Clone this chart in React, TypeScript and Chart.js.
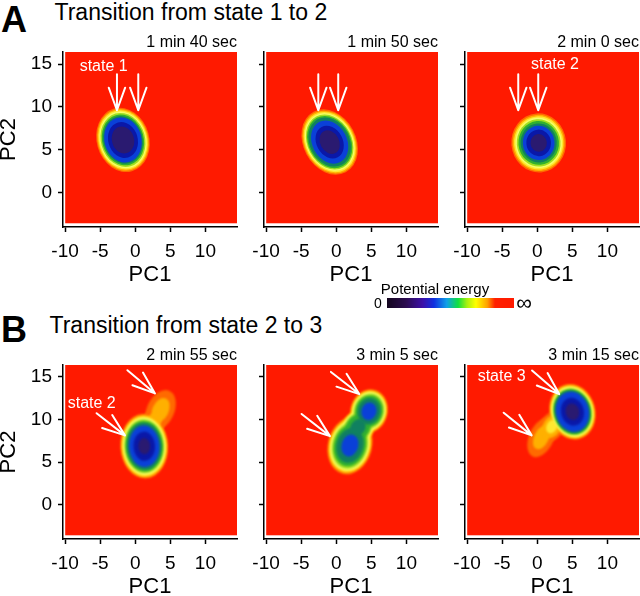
import React, { useEffect, useRef } from 'react';
import { Chart, registerables } from 'chart.js';
Chart.register(...registerables);

const FONT = '"Liberation Sans", Arial, Helvetica, sans-serif';

// axes
const X_TICKS = [-10, -5, 0, 5, 10];
const Y_TICKS = [0, 5, 10, 15];
const AXIS_X_RANGE = [-10.3, 14.5];
const AXIS_Y_RANGE = [-4.0, 16.4];
const FIELD_X_RANGE = [-10, 14.5];
const FIELD_Y_RANGE = [-3.6, 16.4];

// texts
const ROW_LETTERS = ['A', 'B'];
const ROW_TITLES = ['Transition from state 1 to 2', 'Transition from state 2 to 3'];
const PANEL_TIMES = ['1 min 40 sec', '1 min 50 sec', '2 min 0 sec', '2 min 55 sec', '3 min 5 sec', '3 min 15 sec'];

// potential-energy levels (outer -> inner)
const FIELD_COLOR = '#ff1a00';
const LEVEL_COLORS = ['#ff6a00', '#ffb000', '#ffe830', '#f4ff6a', '#a0e020', '#30b030', '#108060', '#0a40d8', '#0a18a8', '#2a1a70'];

// wells (contour ellipses) per panel, in PC units
const BLOB_PANEL = [0, 1, 2, 3, 3, 3, 4, 4, 4, 5, 5, 5];
const BLOB_X = [-1.75, -0.94, 0.2, 1.28, 3.6, 2.6, 1.95, 4.66, 3.09, 5.01, 0.6, 2.1];
const BLOB_Y = [6.15, 5.9, 5.8, 6.88, 11.1, 9.7, 6.97, 10.98, 9.09, 10.92, 7.9, 9.2];
const BLOB_RX = [3.75, 3.75, 3.9, 3.4, 1.95, 1.6, 3.15, 2.66, 2.3, 3.25, 1.75, 1.7];
const BLOB_RY = [3.8, 4.0, 3.45, 3.8, 2.5, 1.8, 3.45, 2.6, 2.3, 3.3, 2.45, 1.9];
const BLOB_ROT = [-16, -28, -5, -3, 25, 30, 15, 15, 35, -15, 25, 30];
const BLOB_LEVELS = [
  [1, 0.96, 0.92, 0.88, 0.84, 0.79, 0.74, 0.7, 0.56, 0.42],
  [1, 0.96, 0.92, 0.88, 0.84, 0.8, 0.75, 0.66, 0.5, 0.36],
  [1, 0.95, 0.9, 0.85, 0.8, 0.74, 0.66, 0.58, 0.45, 0.3],
  [1, 0.96, 0.92, 0.87, 0.83, 0.78, 0.72, 0.64, 0.45, 0.25],
  [1, 0.6],
  [1, 0.65],
  [1, 0.95, 0.9, 0.85, 0.8, 0.72, 0.6, 0.38],
  [1, 0.95, 0.9, 0.85, 0.8, 0.72, 0.6, 0.4],
  [1, 0.95, 0.9, 0.85, 0.8, 0.72, 0.45],
  [1, 0.96, 0.92, 0.88, 0.84, 0.8, 0.76, 0.72, 0.5, 0.3],
  [1, 0.6],
  [1, 0.75, 0.45],
];

// arrows: tip position and pointing direction (degrees, screen)
const ARROW_PANEL = [0, 0, 1, 1, 2, 2, 3, 3, 4, 4, 5, 5];
const ARROW_X = [-2.61, 0.43, -2.56, 0.28, -2.71, 0.14, 2.81, -1.47, 3.28, -0.9, 3.13, -0.8];
const ARROW_Y = [9.61, 9.61, 9.61, 9.61, 9.61, 9.61, 13.07, 8.15, 12.99, 8.06, 12.99, 8.15];
const ARROW_DIR = [90, 90, 90, 90, 90, 90, 40, 38, 38, 38, 41, 39];

// state labels
const LABEL_PANEL = [0, 2, 3, 5];
const LABEL_TEXT = ['state 1', 'state 2', 'state 2', 'state 3'];
const LABEL_X = [-4.5, 2.52, -6.21, -5.07];
const LABEL_Y = [14.69, 14.89, 11.89, 15.03];

// colour bar
const CBAR_STOPS = [0, 0.15, 0.28, 0.37, 0.47, 0.56, 0.63, 0.7, 0.79, 0.85, 1];
const CBAR_COLORS = ['#14061e', '#2c0c50', '#3c10a8', '#1030e0', '#10a0e8', '#10e040', '#a8f010', '#ffff00', '#ffa000', '#ff2000', '#ff1a00'];

const ROW_CANVAS_TOP = [27, 340];
const ROW_CANVAS_H = [261, 260];

function makeFieldPlugin(panel: number, soft: number) {
  return {
    id: 'field' + panel,
    beforeDatasetsDraw(chart: any) {
      const { ctx, scales } = chart;
      const xs = scales.x, ys = scales.y;
      const px = (v: number) => xs.getPixelForValue(v);
      const py = (v: number) => ys.getPixelForValue(v);
      ctx.save();
      const fx0 = px(FIELD_X_RANGE[0]), fx1 = px(FIELD_X_RANGE[1]);
      const fy0 = py(FIELD_Y_RANGE[0]), fy1 = py(FIELD_Y_RANGE[1]);
      ctx.beginPath();
      ctx.rect(fx0, fy1, fx1 - fx0, fy0 - fy1);
      ctx.clip();
      ctx.fillStyle = FIELD_COLOR;
      ctx.fillRect(fx0, fy1, fx1 - fx0, fy0 - fy1);
      const idx: number[] = [];
      BLOB_PANEL.forEach((p, i) => { if (p === panel) idx.push(i); });
      ctx.filter = soft > 0 ? `blur(${soft}px)` : 'none';
      for (let L = 0; L < LEVEL_COLORS.length; L++) {
        ctx.fillStyle = LEVEL_COLORS[L];
        for (const i of idx) {
          const f = BLOB_LEVELS[i][L];
          if (f === undefined) continue;
          const cx = px(BLOB_X[i]), cy = py(BLOB_Y[i]);
          const rx = Math.abs(px(BLOB_X[i] + BLOB_RX[i]) - cx) * f;
          const ry = Math.abs(py(BLOB_Y[i] + BLOB_RY[i]) - cy) * f;
          ctx.beginPath();
          ctx.ellipse(cx, cy, rx, ry, (BLOB_ROT[i] * Math.PI) / 180, 0, 2 * Math.PI);
          ctx.fill();
        }
      }
      ctx.filter = 'none';
      // arrows
      ctx.strokeStyle = '#ffffff';
      ctx.lineWidth = 2;
      ctx.lineCap = 'round';
      ARROW_PANEL.forEach((p, i) => {
        if (p !== panel) return;
        const tx = px(ARROW_X[i]), ty = py(ARROW_Y[i]);
        const d = (ARROW_DIR[i] * Math.PI) / 180;
        ctx.beginPath();
        ctx.moveTo(tx - 36 * Math.cos(d), ty - 36 * Math.sin(d));
        ctx.lineTo(tx, ty);
        for (const s of [-1, 1]) {
          const h = d + Math.PI + s * (20 * Math.PI) / 180;
          ctx.moveTo(tx, ty);
          ctx.lineTo(tx + 24 * Math.cos(h), ty + 24 * Math.sin(h));
        }
        ctx.stroke();
      });
      // labels
      ctx.fillStyle = '#ffffff';
      ctx.font = `16px ${FONT}`;
      ctx.textAlign = 'center';
      ctx.textBaseline = 'middle';
      LABEL_PANEL.forEach((p, i) => {
        if (p !== panel) return;
        ctx.fillText(LABEL_TEXT[i], px(LABEL_X[i]), py(LABEL_Y[i]));
      });
      ctx.restore();
    },
  };
}

function Panel({ index }: { index: number }) {
  const ref = useRef<HTMLCanvasElement>(null);
  const row = Math.floor(index / 3);
  const col = index % 3;
  const H = ROW_CANVAS_H[row];
  useEffect(() => {
    const chart = new Chart(ref.current as HTMLCanvasElement, {
      type: 'scatter',
      data: { datasets: [{ data: [], pointRadius: 0 }] },
      options: {
        animation: false,
        responsive: false,
        events: [],
        layout: { padding: { left: 0, right: 3, top: 0, bottom: 0 } },
        plugins: {
          legend: { display: false },
          tooltip: { enabled: false },
          title: {
            display: true,
            text: PANEL_TIMES[index],
            align: 'end',
            color: '#000',
            font: { family: FONT, size: 16, weight: 'normal', lineHeight: 1.125 },
            padding: { top: 7, bottom: 0 },
          },
        },
        scales: {
          x: {
            type: 'linear',
            min: AXIS_X_RANGE[0],
            max: AXIS_X_RANGE[1],
            afterBuildTicks: (s: any) => { s.ticks = X_TICKS.map((v) => ({ value: v })); },
            afterFit: (s: any) => { s.height = 61; },
            ticks: { color: '#000', font: { family: FONT, size: 19 }, padding: 8, maxRotation: 0, autoSkip: false, callback: (v: any) => String(v) },
            grid: { display: true, drawOnChartArea: false, drawTicks: true, tickLength: 5, tickWidth: 1.5, tickColor: '#000' },
            border: { display: true, color: '#000', width: 1.5 },
            title: { display: true, text: 'PC1', color: '#000', font: { family: FONT, size: 22 }, padding: 0 },
          },
          y: {
            type: 'linear',
            min: AXIS_Y_RANGE[0],
            max: AXIS_Y_RANGE[1],
            afterBuildTicks: (s: any) => { s.ticks = Y_TICKS.map((v) => ({ value: v })); },
            afterFit: (s: any) => { s.width = 63; },
            ticks: { color: '#000', font: { family: FONT, size: 19 }, padding: 6, autoSkip: false, callback: (v: any) => (col === 0 ? String(v) : '') },
            grid: { display: true, drawOnChartArea: false, drawTicks: true, tickLength: 5, tickWidth: 1.5, tickColor: '#000' },
            border: { display: true, color: '#000', width: 1.5 },
            title: { display: col === 0, text: 'PC2', color: '#000', font: { family: FONT, size: 22, lineHeight: 0.85 }, padding: 0 },
          },
        },
      } as any,
      plugins: [makeFieldPlugin(index, row === 0 ? 0.5 : 1.3)],
    });
    return () => chart.destroy();
  }, []);
  return (
    <canvas
      ref={ref}
      width={240}
      height={H}
      style={{ position: 'absolute', left: col * 201, top: ROW_CANVAS_TOP[row], width: 240, height: H }}
    />
  );
}

export default function App() {
  const gradient = `linear-gradient(to right, ${CBAR_COLORS.map((c, i) => `${c} ${(CBAR_STOPS[i] * 100).toFixed(1)}%`).join(', ')})`;
  const abs = (o: any) => ({ position: 'absolute' as const, whiteSpace: 'nowrap' as const, ...o });
  return (
    <div style={{ position: 'absolute', left: 0, top: 0, width: 640, height: 596, overflow: 'hidden', background: '#fff', fontFamily: FONT, color: '#000' }}>
      <div style={abs({ left: 1, top: 1.5, fontSize: 36, lineHeight: '36px', fontWeight: 'bold' })}>{ROW_LETTERS[0]}</div>
      <div style={abs({ left: 54.5, top: 0.8, fontSize: 23, lineHeight: '23px' })}>{ROW_TITLES[0]}</div>
      <div style={abs({ left: 1, top: 311.5, fontSize: 36, lineHeight: '36px', fontWeight: 'bold' })}>{ROW_LETTERS[1]}</div>
      <div style={abs({ left: 49.5, top: 313.9, fontSize: 23, lineHeight: '23px' })}>{ROW_TITLES[1]}</div>
      {[0, 1, 2, 3, 4, 5].map((i) => (
        <Panel key={i} index={i} />
      ))}
      <div style={abs({ left: 335, width: 200, textAlign: 'center', top: 280.6, fontSize: 15, lineHeight: '15px' })}>Potential energy</div>
      <div style={abs({ left: 368, width: 20, textAlign: 'center', top: 295.9, fontSize: 14, lineHeight: '14px' })}>0</div>
      <div style={abs({ left: 387, top: 298, width: 127, height: 10, background: gradient })} />
      <div style={abs({ left: 513, width: 22, textAlign: 'center', top: 291.7, fontSize: 22, lineHeight: '22px' })}>∞</div>
    </div>
  );
}
